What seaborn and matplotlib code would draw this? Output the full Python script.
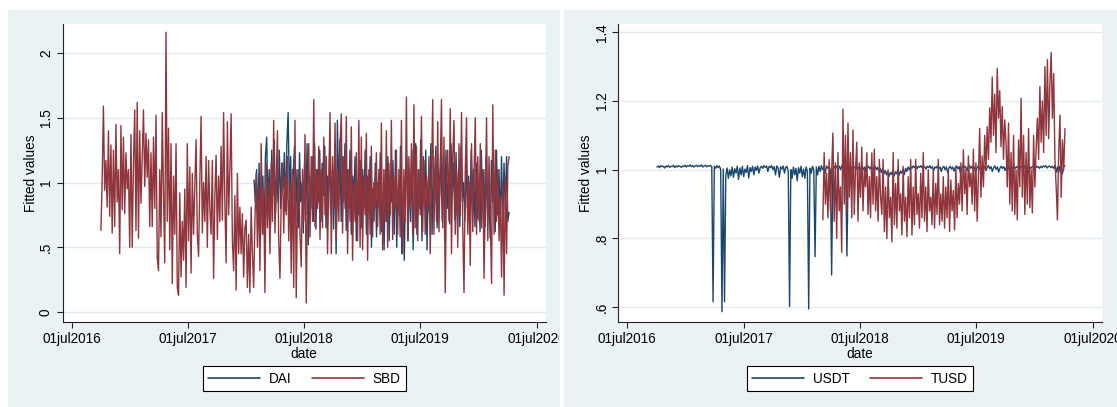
import numpy as np
import pandas as pd
import matplotlib
matplotlib.use("Agg")
import matplotlib.pyplot as plt
import seaborn as sns
from matplotlib.patches import Rectangle
from matplotlib.lines import Line2D
from matplotlib.transforms import Bbox

sns.set_style("white")
plt.rcParams['font.family'] = ['Liberation Sans', 'DejaVu Sans']
plt.rcParams['text.color'] = 'black'
plt.rcParams['axes.labelcolor'] = 'black'
plt.rcParams['xtick.color'] = 'black'
plt.rcParams['ytick.color'] = 'black'

# ---------------- data ----------------
tick_dates = ["2016-07-01", "2017-07-01", "2018-07-01", "2019-07-01", "2020-07-01"]
tick_labels = ["01jul2016", "01jul2017", "01jul2018", "01jul2019", "01jul2020"]

left_yticks = [0, 0.5, 1, 1.5, 2]
left_ylabels = ["0", ".5", "1", "1.5", "2"]
right_yticks = [0.6, 0.8, 1.0, 1.2, 1.4]
right_ylabels = [".6", ".8", "1", "1.2", "1.4"]

sbd_start, sbd_end = "2016-10-01", "2020-04-05"
sbd = [
    0.63, 1.02, 1.59, 0.94, 1.17, 0.81, 1.40, 0.74,
    1.29, 0.61, 1.25, 0.66, 1.45, 0.85, 1.10, 0.45,
    1.44, 0.79, 1.35, 0.76, 1.23, 0.95, 1.10, 0.50,
    1.37, 0.50, 1.15, 1.56, 0.63, 1.62, 0.57, 1.40,
    0.84, 1.20, 1.56, 0.97, 1.38, 1.04, 1.33, 0.66,
    1.23, 0.66, 1.35, 0.80, 1.52, 0.42, 0.32, 1.10,
    0.58, 1.54, 0.90, 0.38, 2.16, 0.70, 1.42, 0.48,
    1.30, 0.22, 1.05, 0.60, 1.30, 0.19, 0.13, 0.92,
    0.27, 0.70, 0.40, 0.95, 0.19, 1.30, 0.55, 1.12,
    0.30, 1.07, 0.60, 0.95, 1.33, 0.60, 0.43, 1.00,
    1.51, 0.61, 1.00, 0.70, 1.20, 0.50, 1.17, 0.80,
    0.60, 1.17, 0.26, 0.90, 1.21, 0.56, 1.05, 0.70,
    1.28, 0.71, 1.54, 0.85, 0.38, 1.47, 0.75, 1.10,
    1.53, 0.55, 0.32, 0.90, 0.17, 1.07, 0.45, 0.81,
    0.45, 0.76, 0.27, 0.65, 0.71, 0.19, 0.60, 0.15,
    0.81, 0.45, 0.19, 0.70, 1.07, 0.50, 0.97, 0.32,
    1.30, 0.60, 0.95, 0.15, 1.15, 0.65, 1.00, 0.45,
    1.15, 0.70, 1.48, 0.61, 1.00, 1.40, 0.55, 0.26,
    0.85, 1.15, 0.61, 1.05, 0.75, 1.20, 0.55, 1.00,
    0.30, 1.10, 0.19, 1.48, 0.11, 0.85, 1.10, 0.60,
    0.35, 1.10, 0.70, 1.37, 0.07, 0.90, 1.30, 0.58,
    1.20, 0.70, 1.64, 0.66, 1.10, 0.80, 1.28, 0.56,
    1.10, 0.65, 1.35, 0.75, 1.20, 0.45, 1.00, 1.54,
    0.45, 1.20, 0.80, 1.46, 0.56, 1.10, 0.70, 1.30,
    1.53, 0.61, 1.20, 0.80, 1.51, 0.45, 1.10, 0.70,
    1.43, 0.40, 1.00, 0.70, 1.23, 0.55, 1.48, 0.50,
    1.35, 0.48, 1.05, 0.75, 1.38, 0.40, 1.10, 0.60,
    1.28, 0.58, 1.00, 0.80, 1.23, 0.66, 1.10, 0.60,
    1.46, 0.48, 1.10, 0.70, 1.40, 0.50, 1.15, 0.75,
    1.48, 0.56, 1.05, 0.80, 1.25, 0.60, 1.10, 0.58,
    1.48, 0.45, 1.10, 0.70, 1.66, 0.55, 1.20, 0.80,
    1.30, 0.60, 1.60, 0.65, 1.28, 0.55, 1.10, 0.75,
    1.51, 0.62, 1.17, 0.60, 1.05, 0.80, 1.20, 0.45,
    1.00, 1.64, 0.60, 1.20, 0.70, 1.47, 0.62, 1.10,
    1.64, 0.65, 1.35, 0.15, 1.00, 1.25, 0.70, 1.57,
    0.45, 1.20, 1.48, 0.60, 1.10, 0.50, 1.30, 0.75,
    1.54, 0.65, 0.15, 1.10, 1.50, 0.60, 1.00, 0.36,
    1.30, 0.62, 1.05, 1.50, 0.60, 1.20, 0.70, 1.30,
    0.65, 1.10, 0.26, 0.90, 1.50, 0.55, 1.20, 0.70,
    0.22, 1.60, 0.60, 1.25, 0.70, 1.10, 0.55, 0.90,
    0.27, 1.00, 0.13, 1.04, 0.45, 1.12, 1.20,
]

dai_start, dai_end = "2018-01-25", "2020-04-05"
dai = [
    1.02, 0.85, 1.10, 0.70, 1.15, 0.56, 0.95, 1.05,
    0.60, 1.20, 1.35, 0.80, 1.10, 0.65, 1.25, 0.90,
    1.33, 0.76, 1.10, 0.85, 1.25, 0.80, 1.15, 0.95,
    1.23, 0.78, 1.30, 1.54, 0.90, 1.20, 0.61, 1.05,
    1.28, 0.70, 1.10, 0.65, 1.23, 0.85, 1.00, 0.61,
    1.15, 0.75, 1.30, 0.52, 1.05, 0.80, 1.20, 0.70,
    1.30, 0.64, 1.10, 0.85, 1.25, 0.70, 1.15, 0.90,
    1.28, 0.65, 1.05, 0.80, 1.30, 0.75, 1.10, 0.64,
    1.20, 0.45, 1.48, 0.90, 1.33, 0.70, 1.20, 0.85,
    1.30, 0.63, 1.10, 0.80, 1.25, 0.60, 1.05, 0.90,
    1.20, 0.55, 1.00, 0.75, 1.17, 0.65, 1.10, 0.80,
    1.25, 0.60, 1.05, 0.85, 1.20, 0.50, 0.95, 0.70,
    1.15, 0.58, 1.00, 0.80, 1.23, 0.62, 0.90, 0.48,
    1.10, 0.70, 1.20, 0.55, 1.00, 0.85, 1.17, 0.60,
    1.25, 0.50, 0.95, 0.75, 1.28, 0.45, 0.90, 0.40,
    1.00, 1.20, 0.55, 1.10, 0.70, 1.25, 0.48, 0.95,
    1.30, 0.60, 1.10, 0.80, 1.33, 0.55, 1.20, 0.90,
    1.25, 0.48, 1.00, 0.75, 1.30, 0.60, 1.15, 0.85,
    1.28, 0.65, 1.10, 0.90, 1.30, 0.70, 1.20, 0.55,
    1.25, 0.80, 1.05, 0.68, 1.30, 0.90, 1.15, 0.71,
    1.23, 0.75, 1.10, 0.66, 1.28, 0.85, 1.00, 0.70,
    1.20, 0.80, 1.05, 0.68, 1.25, 0.90, 1.10, 0.66,
    1.15, 0.72, 1.00, 0.62, 1.25, 0.80, 1.10, 0.66,
    1.20, 0.70, 0.95, 0.57, 1.17, 0.85, 1.05, 0.62,
    1.25, 0.75, 1.10, 0.65, 1.20, 0.70, 1.15, 0.80,
    1.20, 0.70, 0.77,
]

usdt_start, usdt_end = "2016-10-02", "2020-04-05"
usdt = [
    1.008, 1.011, 1.006, 1.012, 1.009, 1.010, 1.005, 1.011, 1.008, 1.012,
    1.007, 1.010, 1.009, 1.013, 1.006, 1.011, 1.008, 1.012, 1.010, 1.007,
    1.011, 1.009, 1.013, 1.008, 1.012, 1.010, 1.014, 1.009, 1.012, 1.008,
    1.011, 1.013, 1.009, 1.012, 1.010, 1.014, 1.008, 1.011, 1.013, 1.009,
    1.012, 1.010, 1.013, 1.008, 0.616, 1.010, 1.004, 1.012, 1.006, 1.011,
    1.000, 0.587, 1.002, 0.616, 0.985, 1.005, 0.975, 1.000, 0.982, 1.008,
    0.978, 1.003, 0.990, 1.010, 0.972, 1.005, 0.985, 1.010, 0.980, 1.002,
    0.992, 1.012, 0.976, 1.006, 0.995, 1.010, 0.985, 1.008, 0.998, 1.011,
    0.990, 1.006, 1.010, 1.004, 1.012, 1.007, 1.011, 0.995, 1.010, 1.006,
    1.012, 1.000, 1.009, 0.985, 1.011, 1.005, 0.978, 1.008, 1.002, 1.011,
    0.990, 1.007, 1.010, 0.995, 0.602, 1.000, 0.975, 1.008, 0.985, 1.004,
    0.968, 1.006, 0.990, 1.010, 0.980, 1.002, 0.975, 1.008, 0.995, 0.595,
    1.005, 0.990, 1.010, 1.000, 0.747, 1.008, 0.985, 1.010, 0.995, 1.012,
    1.000, 1.008, 0.990, 1.011, 1.004, 1.010, 0.998, 0.694, 1.005, 1.010,
    1.002, 1.011, 1.006, 1.010, 1.000, 1.012, 1.005, 1.009, 1.003, 0.749,
    1.008, 1.004, 1.010, 0.998, 1.009, 1.005, 1.011, 1.002, 1.008, 0.997,
    1.007, 1.010, 1.001, 1.008, 0.995, 1.006, 1.010, 1.002, 1.009, 0.998,
    1.006, 1.010, 1.000, 1.007, 0.996, 1.004, 0.992, 1.002, 0.988, 0.998,
    0.985, 0.995, 0.980, 0.992, 0.986, 0.998, 0.982, 0.994, 0.988, 1.000,
    0.984, 0.996, 0.990, 1.002, 0.986, 1.004, 0.995, 1.008, 1.000, 1.010,
    1.004, 1.011, 1.006, 1.012, 1.003, 1.010, 1.007, 1.012, 1.005, 1.011,
    1.008, 1.002, 1.010, 1.006, 1.012, 1.004, 1.009, 0.998, 1.008, 1.005,
    1.011, 1.003, 1.008, 0.995, 1.006, 1.010, 1.000, 1.008, 0.992, 1.005,
    1.010, 1.002, 1.008, 0.996, 1.006, 1.011, 1.003, 1.009, 0.990, 1.004,
    1.012, 1.006, 1.010, 0.998, 1.008, 1.013, 1.004, 1.010, 1.000, 1.008,
    0.995, 1.006, 1.011, 1.002, 1.009, 0.990, 1.004, 1.010, 0.998, 1.007,
    1.012, 1.003, 1.009, 0.995, 1.006, 1.011, 1.001, 1.008, 0.993, 1.005,
    1.010, 1.004, 1.009, 0.998, 1.007, 1.012, 1.003, 1.008, 0.996, 1.006,
    1.011, 1.004, 1.009, 1.006, 1.010, 1.005, 1.011, 1.007, 1.012, 1.004,
    1.009, 1.006, 1.011, 1.003, 1.008, 1.010, 1.005, 1.012, 1.007, 1.009,
    1.004, 1.010, 1.006, 1.011, 1.008, 1.012, 1.005, 1.009, 1.011, 1.006,
    1.010, 1.004, 1.012, 0.992, 1.008, 0.990, 1.010, 1.005, 0.988, 1.010, 1.012,
]

tusd_start, tusd_end = "2018-03-07", "2020-04-05"
tusd = [
    0.854, 1.05, 0.90, 0.99, 0.86, 1.03, 0.88, 1.00,
    1.107, 0.85, 1.02, 0.80, 1.05, 0.88, 0.95, 0.76,
    1.176, 0.90, 1.10, 0.88, 1.136, 0.92, 1.05, 0.86,
    1.116, 0.87, 1.00, 1.08, 0.85, 1.02, 0.92, 1.066,
    0.88, 1.00, 0.95, 1.05, 0.87, 0.98, 0.86, 1.049,
    0.90, 1.06, 0.88, 0.98, 0.85, 1.03, 0.92, 0.87,
    1.03, 0.82, 0.95, 0.80, 1.00, 0.86, 0.92, 0.79,
    1.05, 0.84, 0.96, 0.83, 1.03, 0.88, 0.93, 0.81,
    1.01, 0.85, 0.92, 0.805, 0.98, 0.86, 1.03, 0.81,
    0.95, 0.84, 1.03, 0.87, 0.93, 0.83, 0.99, 0.86,
    1.05, 0.85, 0.95, 0.82, 1.00, 0.88, 0.92, 0.84,
    1.00, 0.83, 0.96, 0.87, 1.03, 0.84, 0.93, 0.85,
    0.98, 0.83, 0.95, 0.86, 1.00, 0.82, 0.97, 0.88,
    0.94, 0.825, 1.01, 0.86, 0.96, 0.90, 1.02, 0.88,
    1.058, 0.93, 1.00, 0.87, 1.04, 0.95, 0.99, 0.90,
    1.06, 0.88, 1.02, 0.85, 0.98, 1.12, 0.92, 1.04,
    0.95, 1.10, 1.00, 1.125, 1.03, 1.18, 1.08, 1.27,
    1.10, 1.22, 1.05, 1.295, 1.15, 1.23, 1.067, 1.184,
    1.03, 1.145, 1.08, 0.95, 1.136, 0.90, 1.05, 0.88,
    1.10, 0.87, 1.00, 0.854, 1.087, 0.95, 1.208, 0.92,
    1.10, 0.87, 1.05, 0.90, 1.12, 0.89, 1.00, 0.874,
    1.10, 0.95, 1.06, 1.15, 1.03, 1.242, 1.08, 1.20,
    1.05, 1.30, 1.10, 1.32, 1.09, 1.25, 1.341, 1.15,
    1.28, 1.03, 0.95, 0.854, 1.05, 1.159, 0.92, 1.087,
    1.00, 1.12,
]

NAVY = "#1A476F"
MAROON = "#90353B"
BG = "#EAF2F3"
GRID = "#E4ECEE"
FS = 9.8


def frame(values, start, end, name):
    dates = pd.date_range(start, end, periods=len(values))
    return pd.DataFrame({"date": dates, "value": values, "series": name})


left_df = pd.concat([frame(dai, dai_start, dai_end, "DAI"),
                     frame(sbd, sbd_start, sbd_end, "SBD")], ignore_index=True)
right_df = pd.concat([frame(usdt, usdt_start, usdt_end, "USDT"),
                      frame(tusd, tusd_start, tusd_end, "TUSD")], ignore_index=True)

W, H = 1117, 407
fig = plt.figure(figsize=(W / 100, H / 100), dpi=100)
fig.patch.set_facecolor("white")

# panel backgrounds (drawn beneath the axes)
for x0, x1 in [(8, 559), (564, 1117)]:
    fig.patches.append(Rectangle((x0 / W, 0), (x1 - x0) / W, (H - 10) / H,
                                 transform=fig.transFigure, color=BG, zorder=-5))

ax_l = fig.add_axes([62.7 / W, (H - 322) / H, (545.7 - 62.7) / W, (322 - 24) / H])
ax_r = fig.add_axes([618.4 / W, (H - 322) / H, (1101.6 - 618.4) / W, (322 - 24) / H])

panels = [
    (ax_l, left_df, ["DAI", "SBD"], left_yticks, left_ylabels, (-0.077, 2.224), (8, 559), 304.2),
    (ax_r, right_df, ["USDT", "TUSD"], right_yticks, right_ylabels, (0.557, 1.424), (564, 1117), 860.0),
]

for ax, df, names, yt, ytl, ylim, (px0, px1), cx in panels:
    ax.set_facecolor("white")
    sns.lineplot(data=df, x="date", y="value", hue="series", hue_order=names,
                 palette={names[0]: NAVY, names[1]: MAROON}, estimator=None,
                 errorbar=None, legend=False, lw=1.0, ax=ax)
    ax.set_xlim(pd.Timestamp("2016-06-03"), pd.Timestamp("2020-07-29"))
    ax.set_ylim(*ylim)
    ax.set_yticks(yt)
    ax.set_yticklabels(ytl, rotation=90, va="center", fontsize=FS)
    ax.set_xticks(pd.to_datetime(tick_dates))
    ax.set_xticklabels(tick_labels, fontsize=FS)
    ax.set_xlabel("date", fontsize=FS, labelpad=1)
    ax.set_ylabel("Fitted values", fontsize=FS, labelpad=1)
    ax.yaxis.grid(True, color=GRID, lw=1.0)
    ax.xaxis.grid(False)
    ax.set_axisbelow(True)
    for s in ["top", "right"]:
        ax.spines[s].set_visible(False)
    for s in ["left", "bottom"]:
        ax.spines[s].set_color("#222222")
        ax.spines[s].set_linewidth(0.8)
    ax.tick_params(axis="both", direction="out", length=4, width=0.8,
                   color="#222222", pad=3, left=True, bottom=True)
    clip = Bbox.from_extents(px0, 0, px1, H - 10)
    for t in ax.xaxis.get_major_ticks():
        t.label1.set_clip_box(clip)
        t.label1.set_clip_on(True)

    handles = [Line2D([], [], color=NAVY, lw=1.2), Line2D([], [], color=MAROON, lw=1.2)]
    leg = fig.legend(handles, names, loc="center", bbox_to_anchor=(cx / W, (H - 378.8) / H),
                     ncol=2, frameon=True, fancybox=False, edgecolor="black",
                     handlelength=3.8, handletextpad=0.66, columnspacing=1.5,
                     borderpad=0.4, fontsize=FS, framealpha=1)
    leg.get_frame().set_linewidth(0.8)

fig.savefig("out.png", dpi=100, facecolor="white")
